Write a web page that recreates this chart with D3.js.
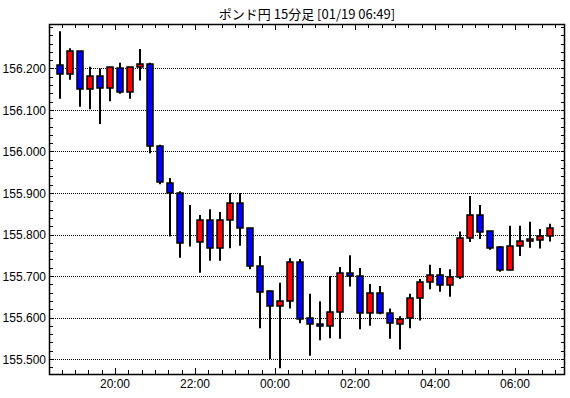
<!DOCTYPE html>
<html>
<head>
<meta charset="utf-8">
<script src="https://cdn.jsdelivr.net/npm/d3@7"></script>
<style>
  body { margin: 0; background: #fff; }
  svg text { font-family: "Liberation Sans Narrow", "Liberation Sans", sans-serif; font-size: 12px; fill: #000; }
  .title { font-family: "Noto Sans CJK JP", sans-serif !important; font-size: 13px !important; }
</style>
</head>
<body>
<div id="chart"></div>
<script>
// 15 minute candles, 01/18 18:30 -> 01/19 06:45
var times = ["01/18 18:30","01/18 18:45","01/18 19:00","01/18 19:15","01/18 19:30","01/18 19:45",
  "01/18 20:00","01/18 20:15","01/18 20:30","01/18 20:45","01/18 21:00","01/18 21:15","01/18 21:30","01/18 21:45",
  "01/18 22:00","01/18 22:15","01/18 22:30","01/18 22:45","01/18 23:00","01/18 23:15","01/18 23:30","01/18 23:45",
  "01/19 00:00","01/19 00:15","01/19 00:30","01/19 00:45","01/19 01:00","01/19 01:15","01/19 01:30","01/19 01:45",
  "01/19 02:00","01/19 02:15","01/19 02:30","01/19 02:45","01/19 03:00","01/19 03:15","01/19 03:30","01/19 03:45",
  "01/19 04:00","01/19 04:15","01/19 04:30","01/19 04:45","01/19 05:00","01/19 05:15","01/19 05:30","01/19 05:45",
  "01/19 06:00","01/19 06:15","01/19 06:30","01/19 06:45"];
var opens = [156.208,156.186,156.241,156.150,156.181,156.152,156.200,156.143,156.203,156.210,
  156.013,155.923,155.899,155.779,155.781,155.835,155.767,155.834,155.876,155.815,
  155.724,155.664,155.627,155.639,155.733,155.600,155.584,155.579,155.612,155.707,
  155.700,155.610,155.658,155.610,155.586,155.597,155.646,155.685,155.702,155.678,
  155.696,155.791,155.847,155.808,155.770,155.714,155.772,155.783,155.786,155.796];
var highs = [156.290,156.249,156.241,156.204,156.200,156.203,156.214,156.203,156.247,156.214,
  156.016,155.936,155.904,155.871,155.847,155.861,155.854,155.900,155.900,155.815,
  155.748,155.665,155.684,155.743,155.741,155.657,155.639,155.700,155.722,155.750,
  155.719,155.681,155.676,155.622,155.603,155.657,155.693,155.727,155.719,155.716,
  155.807,155.893,155.871,155.808,155.772,155.821,155.821,155.831,155.813,155.826];
var lows = [156.127,156.173,156.108,156.102,156.066,156.121,156.139,156.127,156.171,155.996,
  155.921,155.795,155.744,155.771,155.708,155.737,155.737,155.767,155.773,155.716,
  155.574,155.500,155.478,155.622,155.586,155.508,155.545,155.550,155.549,155.675,
  155.572,155.580,155.608,155.549,155.523,155.574,155.593,155.668,155.662,155.650,
  155.693,155.782,155.789,155.763,155.710,155.714,155.748,155.768,155.766,155.783];
var closes = [156.186,156.241,156.150,156.181,156.152,156.203,156.143,156.203,156.210,156.013,
  155.926,155.899,155.779,155.778,155.835,155.767,155.835,155.876,155.815,155.723,
  155.662,155.627,155.640,155.733,155.596,155.586,155.579,155.613,155.707,155.700,
  155.612,155.658,155.610,155.586,155.597,155.646,155.685,155.702,155.678,155.697,
  155.791,155.847,155.807,155.768,155.714,155.772,155.784,155.789,155.796,155.815];

var yTickValues = [155.5, 155.6, 155.7, 155.8, 155.9, 156.0, 156.1, 156.2];
var xTickLabels = ["01/18 20:00","01/18 22:00","01/19 00:00","01/19 02:00","01/19 04:00","01/19 06:00"];
var title = "ポンド円 15分足 [01/19 06:49]";

(function() {
  var parse = d3.timeParse("%m/%d %H:%M");
  var data = times.map(function(t, i) {
    return {t: parse(t), o: opens[i], h: highs[i], l: lows[i], c: closes[i]};
  });

  var width = 570, height = 398;
  var pl = 49, pr = 565, pt = 24, pb = 374;

  var svg = d3.select("#chart").append("svg")
      .attr("width", width)
      .attr("height", height);

  // scales
  var x = d3.scaleTime()
      .domain([parse("01/18 18:20"), parse("01/19 07:15")])
      .range([48.33, pr]);

  var y = d3.scaleLinear()
      .domain([155.4639, 156.3072])
      .range([pb, pt]);

  var half = 7.5 * 60 * 1000; // candle centred in its 15 min slot
  function cx(d) { return Math.round(x(new Date(+d.t + half))); }
  function py(v) { return Math.round(y(v)) + 0.5; }

  // gridlines
  svg.selectAll(".grid")
      .data(yTickValues)
    .enter().append("line")
      .attr("class", "grid")
      .attr("x1", pl).attr("x2", pr)
      .attr("y1", py).attr("y2", py)
      .attr("stroke", "#000")
      .attr("stroke-dasharray", "1,1");

  // y labels
  var yAxis = d3.axisLeft(y)
      .tickValues(yTickValues)
      .tickFormat(d3.format(".3f"))
      .tickSize(0)
      .tickPadding(3);
  svg.append("g")
      .attr("transform", "translate(" + pl + ",0.5)")
      .call(yAxis)
      .call(function(g) { g.select(".domain").remove(); })
      .call(function(g) { g.attr("font-family", null).attr("font-size", null); });

  // minor y ticks on both sides
  var yMinor = d3.range(155.48, 156.31, 0.02);
  svg.selectAll(".ytl")
      .data(yMinor)
    .enter().append("line")
      .attr("x1", pl).attr("x2", pl + 4)
      .attr("y1", py).attr("y2", py)
      .attr("stroke", "#000");
  svg.selectAll(".ytr")
      .data(yMinor)
    .enter().append("line")
      .attr("x1", pr - 4).attr("x2", pr)
      .attr("y1", py).attr("y2", py)
      .attr("stroke", "#000");

  // x ticks (every 20 min, major every 2 hours)
  var xMinor = d3.timeMinute.every(20).range(parse("01/18 18:40"), parse("01/19 07:15"));
  var xMajor = xTickLabels.map(parse);
  function isMajor(d) { return xMajor.some(function(m) { return +m === +d; }); }
  function px(d) { return Math.round(x(d)) + 0.5; }

  svg.selectAll(".xtt")
      .data(xMinor)
    .enter().append("line")
      .attr("x1", px).attr("x2", px)
      .attr("y1", pt).attr("y2", function(d) { return pt + (isMajor(d) ? 6 : 4); })
      .attr("stroke", "#000");
  svg.selectAll(".xtb")
      .data(xMinor)
    .enter().append("line")
      .attr("x1", px).attr("x2", px)
      .attr("y1", pb).attr("y2", function(d) { return pb - (isMajor(d) ? 6 : 4); })
      .attr("stroke", "#000");

  svg.selectAll(".xlabel")
      .data(xMajor)
    .enter().append("text")
      .attr("x", function(d) { return x(d); })
      .attr("y", 388)
      .attr("text-anchor", "middle")
      .text(d3.timeFormat("%H:%M"));

  // candles
  var candles = svg.selectAll(".candle")
      .data(data)
    .enter().append("g")
      .attr("class", "candle");

  candles.append("line")
      .attr("x1", cx).attr("x2", cx)
      .attr("y1", function(d) { return y(d.h); })
      .attr("y2", function(d) { return y(d.l); })
      .attr("stroke", "#000")
      .attr("stroke-width", 2);

  candles.append("rect")
      .attr("x", function(d) { return cx(d) - 3; })
      .attr("y", function(d) { return Math.round(y(Math.max(d.o, d.c))); })
      .attr("width", 6)
      .attr("height", function(d) { return Math.round(Math.abs(y(d.o) - y(d.c))); })
      .attr("fill", function(d) { return d.c >= d.o ? "#ff0000" : "#0000ff"; })
      .attr("stroke", "#000")
      .attr("stroke-width", 1.5);

  // frame
  svg.append("rect")
      .attr("x", pl + 0.5).attr("y", pt + 0.5)
      .attr("width", pr - pl - 1).attr("height", pb - pt)
      .attr("fill", "none")
      .attr("stroke", "#000")
      .attr("stroke-width", 1.5);

  svg.append("text")
      .attr("class", "title")
      .attr("x", (pl + pr) / 2)
      .attr("y", 19)
      .attr("text-anchor", "middle")
      .text(title);
})();
</script>
</body>
</html>
